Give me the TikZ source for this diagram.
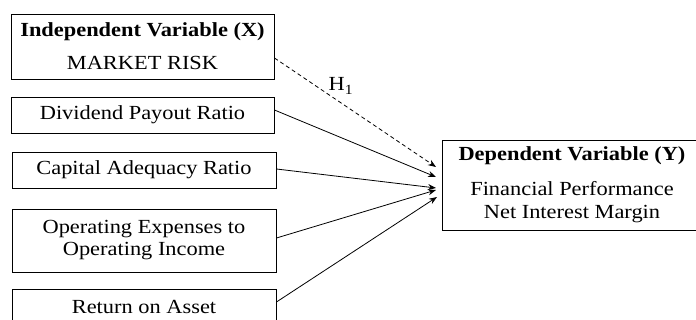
\documentclass[tikz,border=0pt]{standalone}
\usepackage{fontspec}
\setmainfont{Liberation Serif}[FakeStretch=1.12]
\usetikzlibrary{arrows.meta}

\tikzset{
  varbox/.style={draw, line width=0.9pt, minimum width=263pt, align=center, inner sep=0pt,
    font=\fontsize{20}{22}\selectfont},
  link/.style={line width=0.8pt, -{Stealth[length=8pt,width=6pt]}},
}

\begin{document}
\begin{tikzpicture}[x=1pt, y=-1pt]
\useasboundingbox (0, 0) rectangle (696, 320);
\clip (0, 0) rectangle (696, 320);

\node[varbox, minimum height=65pt] (indep) at (142.5, 46.5)
  {\textbf{Independent Variable (X)}\\[11pt] MARKET RISK};
\node[varbox, minimum height=36pt] (dpr) at (142.5, 115) {Dividend Payout Ratio};
\node[varbox, minimum height=36pt, minimum width=264pt] (car) at (144, 170) {Capital Adequacy Ratio};
\node[varbox, minimum height=63pt, minimum width=264pt] (bopo) at (144, 240.5)
  {Operating Expenses to\\ Operating Income};
\node[varbox, minimum height=36pt, minimum width=264pt] (roa) at (144, 307) {Return on Asset};

\node[varbox, minimum height=90pt, minimum width=260pt] (dep) at (572, 185)
  {\textbf{Dependent Variable (Y)}\\[13pt] Financial Performance\\[1pt] Net Interest Margin};

\coordinate (t1) at (436, 167);
\coordinate (t2) at (436, 177);
\coordinate (t3) at (436, 188);
\coordinate (t4) at (436, 190);
\coordinate (t5) at (437, 197);

\draw[link, dash pattern=on 4pt off 3pt] ([yshift=-11.5pt]indep.east) -- (t1);
\node[font=\fontsize{20}{22}\selectfont, inner sep=0pt] (h1) at (341, 86) {H\textsubscript{1}};
\draw[link] ([yshift=5pt]dpr.east) -- (t2);
\draw[link] ([yshift=1pt]car.east) -- (t3);
\draw[link] ([yshift=2.5pt]bopo.east) -- (t4);
\draw[link] ([yshift=5pt]roa.east) -- (t5);
\end{tikzpicture}
\end{document}
